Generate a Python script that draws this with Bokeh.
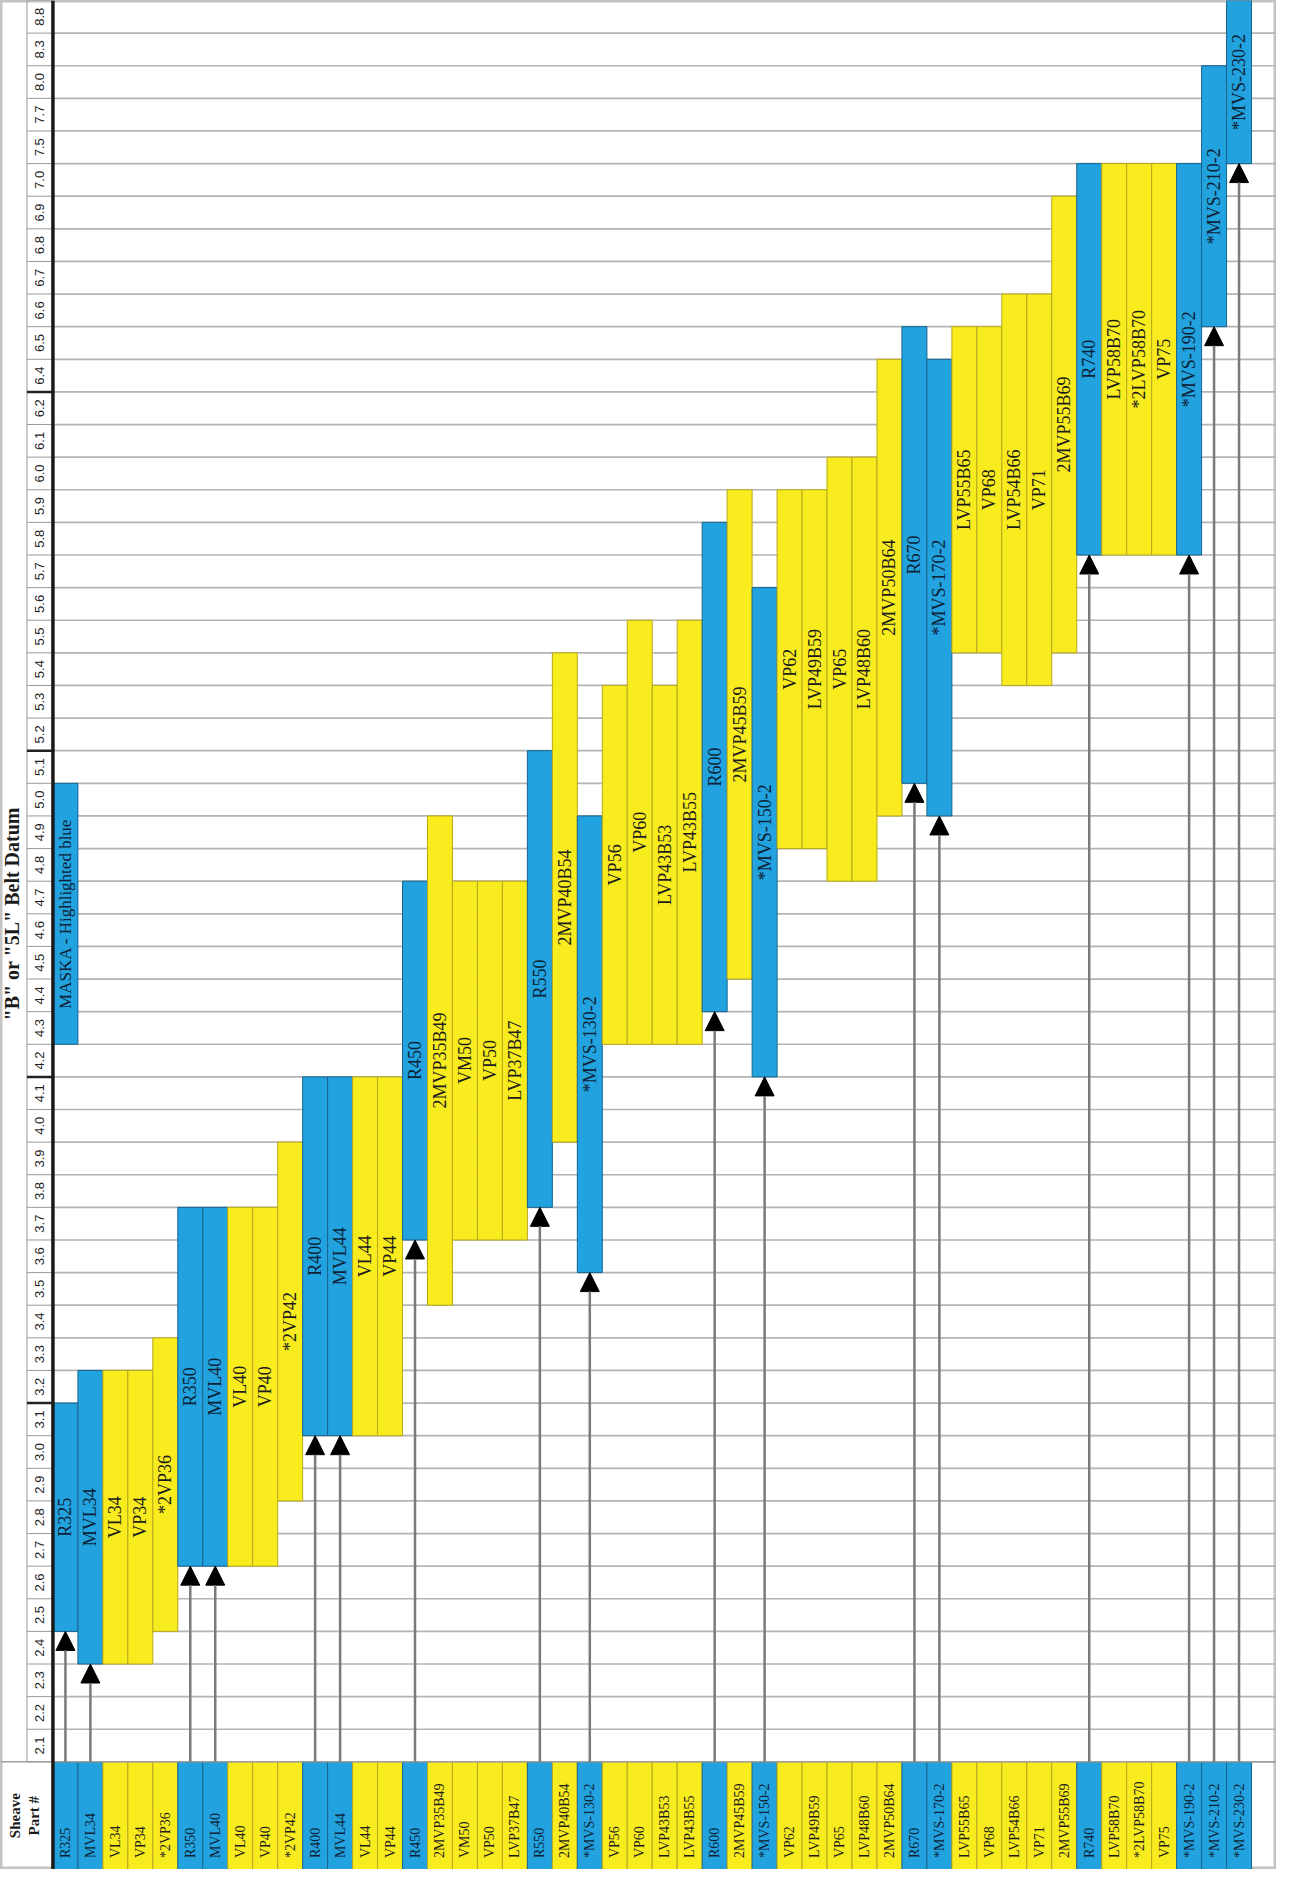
import math
from bokeh.plotting import figure
from bokeh.models import ColumnDataSource, Range1d, Arrow, NormalHead
from bokeh.core.properties import value
from bokeh.embed import file_html
from bokeh.resources import INLINE

# ---------------- data ----------------
datum_rows = ["2.1", "2.2", "2.3", "2.4", "2.5", "2.6", "2.7", "2.8", "2.9", "3.0",
              "3.1", "3.2", "3.3", "3.4", "3.5", "3.6", "3.7", "3.8", "3.9", "4.0",
              "4.1", "4.2", "4.3", "4.4", "4.5", "4.6", "4.7", "4.8", "4.9", "5.0",
              "5.1", "5.2", "5.3", "5.4", "5.5", "5.6", "5.7", "5.8", "5.9", "6.0",
              "6.1", "6.2", "6.4", "6.5", "6.6", "6.7", "6.8", "6.9", "7.0", "7.5",
              "7.7", "8.0", "8.3", "8.8"]

parts = ["R325", "MVL34", "VL34", "VP34", "*2VP36",
         "R350", "MVL40", "VL40", "VP40", "*2VP42",
         "R400", "MVL44", "VL44", "VP44", "R450",
         "2MVP35B49", "VM50", "VP50", "LVP37B47", "R550",
         "2MVP40B54", "*MVS-130-2", "VP56", "VP60", "LVP43B53",
         "LVP43B55", "R600", "2MVP45B59", "*MVS-150-2", "VP62",
         "LVP49B59", "VP65", "LVP48B60", "2MVP50B64", "R670",
         "*MVS-170-2", "LVP55B65", "VP68", "LVP54B66", "VP71",
         "2MVP55B69", "R740", "LVP58B70", "*2LVP58B70", "VP75",
         "*MVS-190-2", "*MVS-210-2", "*MVS-230-2"]

is_maska = [1, 1, 0, 0, 0,
            1, 1, 0, 0, 0,
            1, 1, 0, 0, 1,
            0, 0, 0, 0, 1,
            0, 1, 0, 0, 0,
            0, 1, 0, 1, 0,
            0, 0, 0, 0, 1,
            1, 0, 0, 0, 0,
            0, 1, 0, 0, 0,
            1, 1, 1]

datum_from = ["2.5", "2.4", "2.4", "2.4", "2.5",
              "2.7", "2.7", "2.7", "2.7", "2.9",
              "3.1", "3.1", "3.1", "3.1", "3.7",
              "3.5", "3.7", "3.7", "3.7", "3.8",
              "4.0", "3.6", "4.3", "4.3", "4.3",
              "4.3", "4.4", "4.5", "4.2", "4.9",
              "4.9", "4.8", "4.8", "5.0", "5.1",
              "5.0", "5.5", "5.5", "5.4", "5.4",
              "5.5", "5.8", "5.8", "5.8", "5.8",
              "5.8", "6.6", "7.5"]

datum_to = ["3.1", "3.2", "3.2", "3.2", "3.3",
            "3.7", "3.7", "3.7", "3.7", "3.9",
            "4.1", "4.1", "4.1", "4.1", "4.7",
            "4.9", "4.7", "4.7", "4.7", "5.1",
            "5.4", "4.9", "5.3", "5.5", "5.3",
            "5.5", "5.8", "5.9", "5.6", "5.9",
            "5.9", "6.0", "6.0", "6.4", "6.5",
            "6.4", "6.5", "6.5", "6.6", "6.6",
            "6.9", "7.0", "7.0", "7.0", "7.0",
            "7.0", "8.0", "8.8"]

legend_text = "MASKA - Highlighted blue"
legend_from = "4.3"
legend_to = "5.0"

title_text = '"B" or "5L" Belt Datum'
header_text = "Sheave\nPart #"

# ---------------- styling ----------------
BLUE = "#22A2DE"
BLUE_EDGE = "#16648E"
YELLOW = "#F8EB1E"
YELLOW_EDGE = "#B9A81E"
SERIF = value("Liberation Serif")
SANS = value("Liberation Sans")

n_rows = len(datum_rows)
n_cols = len(parts)
strip_h = 3.3
tick_left = -1.04
x_min, x_max = -2.1, n_cols + 1

row_idx = {r: i for i, r in enumerate(datum_rows)}
bottoms = [row_idx[s] for s in datum_from]
tops = [row_idx[e] + 1 for e in datum_to]
lefts = list(range(n_cols))
fills = [BLUE if m else YELLOW for m in is_maska]
edges = [BLUE_EDGE if m else YELLOW_EDGE for m in is_maska]
txt_cols = ["#0d2236" if m else "#1c1c1c" for m in is_maska]

p = figure(width=1276, height=1869, x_range=Range1d(x_min, x_max),
           y_range=Range1d(-strip_h, n_rows), output_backend="svg",
           toolbar_location=None, x_axis_type=None, y_axis_type=None,
           min_border=0)
p.grid.visible = False
p.outline_line_color = "#C4C4C4"
p.outline_line_width = 4
p.background_fill_color = "white"

# horizontal grid lines in the plot area
bounds = list(range(0, n_rows))
p.segment(x0=[0] * len(bounds), x1=[x_max] * len(bounds), y0=bounds, y1=bounds,
          line_color="#B4B4B4", line_width=1.7)

# tick column cells
tb = list(range(0, n_rows + 1))
p.segment(x0=[tick_left] * len(tb), x1=[0] * len(tb), y0=tb, y1=tb,
          line_color="#9A9A9A", line_width=1)
p.segment(x0=[tick_left], x1=[tick_left], y0=[0], y1=[n_rows],
          line_color="#9A9A9A", line_width=1)
major_marks = [row_idx["3.2"], row_idx["4.2"], row_idx["5.2"], row_idx["6.4"]]
p.segment(x0=[tick_left] * 4, x1=[0] * 4, y0=major_marks, y1=major_marks,
          line_color="#222222", line_width=2.5)

# tick labels
p.text(x=[tick_left / 2] * n_rows, y=[i + 0.5 for i in range(n_rows)], text=datum_rows,
       angle=math.pi / 2, text_align="center", text_baseline="middle",
       text_font=SANS, text_font_size="13px", text_color="#1e1e1e")

# bars
bars = ColumnDataSource(dict(left=lefts, right=[l + 1 for l in lefts], bottom=bottoms,
                             top=tops, fill=fills, edge=edges, part=parts, tc=txt_cols,
                             xc=[l + 0.5 for l in lefts],
                             yc=[(b + t) / 2 for b, t in zip(bottoms, tops)]))
p.quad(left="left", right="right", bottom="bottom", top="top", fill_color="fill",
       line_color="edge", line_width=1, source=bars)
p.text(x="xc", y="yc", text="part", angle=math.pi / 2, text_align="center",
       text_baseline="middle", text_font=SERIF, text_font_size="18px",
       text_color="tc", source=bars)

# legend bar (Maska highlighted)
lb, lt = row_idx[legend_from], row_idx[legend_to] + 1
p.quad(left=[0], right=[1], bottom=[lb], top=[lt], fill_color=BLUE,
       line_color=BLUE_EDGE, line_width=1)
p.text(x=[0.5], y=[(lb + lt) / 2], text=[legend_text], angle=math.pi / 2,
       text_align="center", text_baseline="middle", text_font=SERIF,
       text_font_size="17px", text_color="#0d2236")

# bottom strip with part numbers
p.quad(left=lefts, right=[l + 1 for l in lefts], bottom=[-strip_h] * n_cols,
       top=[0] * n_cols, fill_color=fills, line_color=edges, line_width=1)
p.text(x=[l + 0.5 for l in lefts], y=[-strip_h + 0.35] * n_cols, text=parts,
       angle=math.pi / 2, text_align="left", text_baseline="middle",
       text_font=SERIF, text_font_size="14px", text_color=txt_cols)
p.segment(x0=[x_min], x1=[x_max], y0=[0], y1=[0], line_color="#A0A0A0", line_width=1.5)

# thick separator line
p.segment(x0=[0], x1=[0], y0=[-strip_h], y1=[n_rows], line_color="#1a1a1a", line_width=3.5)

# arrows to Maska bars
ax = [l + 0.5 for l, m in zip(lefts, is_maska) if m]
ay = [b for b, m in zip(bottoms, is_maska) if m]
arrows = ColumnDataSource(dict(x=ax, y0=[0] * len(ax), y1=ay))
p.add_layout(Arrow(end=NormalHead(size=19, fill_color="black", line_color="black"),
                   x_start="x", y_start="y0", x_end="x", y_end="y1",
                   line_color="#7A7A7A", line_width=2.5, source=arrows))

# title and header
p.text(x=[-1.62], y=[26.0], text=[title_text], angle=math.pi / 2, text_align="center",
       text_baseline="middle", text_font=SERIF, text_font_style="bold",
       text_font_size="20px", text_color="#1a1a1a")
p.text(x=[-1.15], y=[-strip_h / 2], text=[header_text], angle=math.pi / 2,
       text_align="center", text_baseline="middle", text_font=SERIF,
       text_font_style="bold", text_font_size="15px", text_color="#1a1a1a")

open("out.html", "w").write(file_html(p, INLINE))
